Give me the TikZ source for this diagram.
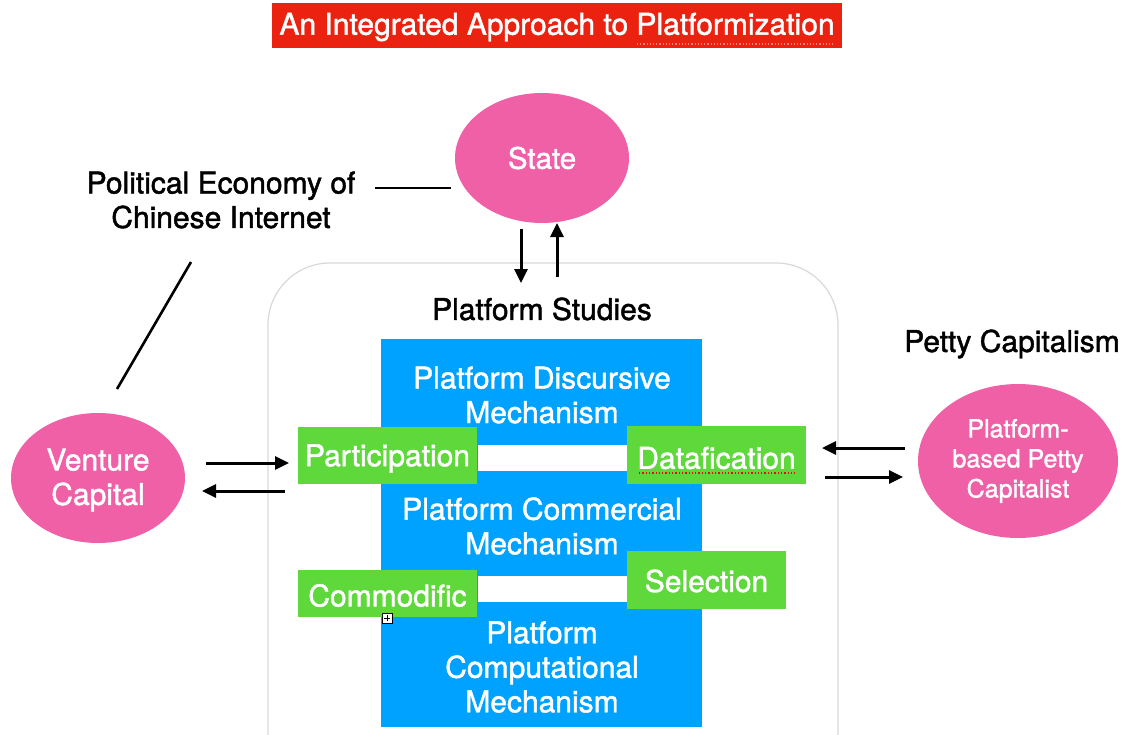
\documentclass[tikz,border=0pt]{standalone}
\usepackage{fontspec}
\setmainfont{TeX Gyre Heros}[FakeBold=1.5]
\usetikzlibrary{shapes.geometric,arrows.meta}
\definecolor{pinkc}{RGB}{239,96,167}
\definecolor{bluec}{RGB}{0,162,255}
\definecolor{greenc}{RGB}{95,216,59}
\definecolor{redc}{RGB}{236,34,16}
\definecolor{grayc}{RGB}{216,216,216}
\newcommand\dn[2]{\raisebox{-#1}[\height][\depth]{#2}}
\begin{document}
\begin{tikzpicture}[x=1pt,y=-1pt,
  blob/.style={ellipse,fill=pinkc,text=white,inner sep=0pt,align=center},
  gbox/.style={rectangle,fill=greenc,text=white,inner sep=0pt,font=\fontsize{30}{34}\selectfont},
  lbl/.style={align=center,font=\fontsize{30}{34.5}\selectfont},
  wlbl/.style={lbl,text=white},
  arr/.style={line width=3pt,-{Triangle[length=14pt,width=13pt]}},
  ln/.style={line width=2.6pt}]
\useasboundingbox (0,0) rectangle (1129,734);

% title
\node[fill=redc,minimum width=570pt,minimum height=45pt,inner sep=0pt,text=white,
  font=\fontsize{30}{34}\selectfont] (title) at (557,25.5) {\dn{1.5pt}{An Integrated Approach to Platformization}};
\draw[redc!55!white,dotted,line width=1.2pt] (637,44) -- (835,44);

% platform studies frame
\draw[grayc,line width=1.2pt,rounded corners=62pt] (268,780) -- (268,263) -- (838,263) -- (838,780);
\node[lbl] (ps) at (542,309) {Platform Studies};

% state
\node[blob,minimum width=174pt,minimum height=130pt,font=\fontsize{29.5}{34}\selectfont] (state) at (542,158) {State};
\node[lbl] (pe) at (221,200) {Political Economy of\\Chinese Internet};
\coordinate (pe1) at (375,188);
\coordinate (st1) at (451,188);
\draw[ln] (pe1) -- (st1);
\coordinate (pe2) at (191,262);
\coordinate (vc1) at (117,389);
\draw[ln] (pe2) -- (vc1);
\coordinate (sd1) at (521,229);
\coordinate (sd2) at (521,283);
\coordinate (su1) at (557,277);
\coordinate (su2) at (557,223);
\draw[arr] (sd1) -- (sd2);
\draw[arr] (su1) -- (su2);

% blue core
\node[fill=bluec,minimum width=321pt,minimum height=388pt,inner sep=0pt] (blue) at (541.5,533) {};
\fill[white] (478,445) rectangle (628,471);
\fill[white] (478,576) rectangle (628,602);
\node[wlbl] (m1) at (542,395) {Platform Discursive\\Mechanism};
\node[wlbl] (m2) at (542,526) {Platform Commercial\\Mechanism};
\node[wlbl] (m3) at (542,667) {Platform\\Computational\\Mechanism};

% green boxes
\node[gbox,minimum width=179pt,minimum height=57pt] (part) at (387.5,455.5) {\dn{3pt}{Participation}};
\node[gbox,minimum width=179pt,minimum height=58pt] (data) at (716.5,455) {\dn{3pt}{Datafication}};
\node[gbox,minimum width=179pt,minimum height=47pt] (comm) at (387.5,593.5) {\dn{2pt}{Commodific}};
\node[gbox,minimum width=159pt,minimum height=58pt] (sel) at (706.5,580) {\dn{1pt}{Selection}};
\draw[red,dotted,line width=1.3pt] (639,473) -- (797,473);
\draw[fill=white,line width=0.8pt] (382,613) rectangle (392,623);
\draw[line width=0.8pt] (384,618) -- (390,618) (387,615) -- (387,621);

% venture capital
\node[blob,minimum width=174pt,minimum height=130pt,font=\fontsize{30}{34.5}\selectfont] (vc) at (98,478) {\dn{2pt}{Venture}\\\dn{2pt}{Capital}};
\coordinate (a1) at (206,463);
\coordinate (a2) at (289,463);
\coordinate (a3) at (285,491);
\coordinate (a4) at (202,491);
\draw[arr] (a1) -- (a2);
\draw[arr] (a3) -- (a4);

% petty capitalism
\node[lbl] (pcl) at (1012,344) {Petty Capitalism};
\node[blob,minimum width=200pt,minimum height=154pt,font=\fontsize{25}{30}\selectfont] (pc) at (1018,461) {Platform-\\based Petty\\Capitalist};
\coordinate (b1) at (905,448);
\coordinate (b2) at (822,448);
\coordinate (b3) at (825,477);
\coordinate (b4) at (903,477);
\draw[arr] (b1) -- (b2);
\draw[arr] (b3) -- (b4);
\end{tikzpicture}
\end{document}
